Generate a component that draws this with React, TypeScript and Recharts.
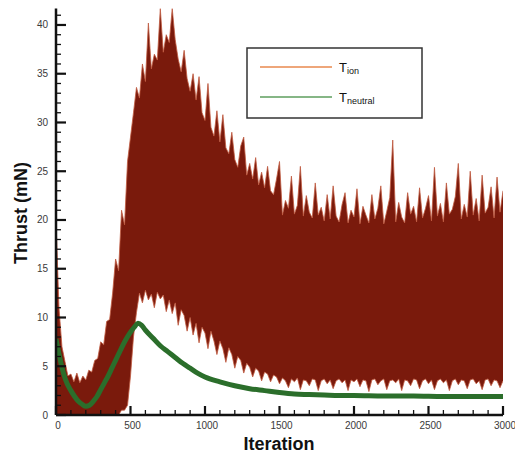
import React from 'react';
import { ComposedChart, Area, Line, XAxis, YAxis, Label } from 'recharts';

const tionIter = [
  0, 20, 40, 60, 80, 100, 120, 140, 160, 180, 200, 220, 240, 260, 280, 300, 320, 340, 360, 380,
  400, 420, 440, 460, 480, 500, 520, 540, 560, 580, 600, 620, 640, 660, 680, 700, 720, 740, 760, 780,
  800, 820, 840, 860, 880, 900, 920, 940, 960, 980, 1000, 1020, 1040, 1060, 1080, 1100, 1120, 1140, 1160, 1180,
  1200, 1220, 1240, 1260, 1280, 1300, 1320, 1340, 1360, 1380, 1400, 1420, 1440, 1460, 1480, 1500, 1520, 1540, 1560, 1580,
  1600, 1620, 1640, 1660, 1680, 1700, 1720, 1740, 1760, 1780, 1800, 1820, 1840, 1860, 1880, 1900, 1920, 1940, 1960, 1980,
  2000, 2020, 2040, 2060, 2080, 2100, 2120, 2140, 2160, 2180, 2200, 2220, 2240, 2260, 2280, 2300, 2320, 2340, 2360, 2380,
  2400, 2420, 2440, 2460, 2480, 2500, 2520, 2540, 2560, 2580, 2600, 2620, 2640, 2660, 2680, 2700, 2720, 2740, 2760, 2780,
  2800, 2820, 2840, 2860, 2880, 2900, 2920, 2940, 2960, 2980, 3000,
];

const tionHigh = [
  20, 11, 7, 5.5, 4, 4.2, 3.4, 4.3, 3.3, 4.0, 3.6, 4.6, 4.4, 5.6, 5.8, 7.5, 7.2, 9.6, 9.8, 12.5,
  16, 14.8, 21, 19.5, 26, 28.5, 31, 33.6, 32.5, 36, 34.2, 40.2, 35.5, 37, 36.4, 41.7, 37.2, 39, 38.2, 41.7,
  38.5, 36.5, 35.2, 37.4, 34.5, 33.2, 35, 32.3, 34.7, 31, 30.2, 34, 29.5, 28.6, 31.2, 28, 30.8, 27.4, 26.8, 29,
  26.2, 25.4, 27.6, 28.5, 24.6, 25.8, 24.2, 26.4, 23.6, 24.9, 23.3, 25.5, 23, 22.6, 24.2, 26, 20.5, 22, 21.2, 24.5,
  20.6, 21.5, 25.5, 20.4, 22.5, 20.8, 20.2, 23.8, 20.5, 21.3, 19.9, 22.6, 20.1, 23.5, 20.4, 19.8, 21.6, 22.8, 19.7, 21,
  20.3, 23.2, 19.6, 21.4, 20.5, 19.7, 22.6, 20.1, 21.2, 23.5, 19.6, 20.9, 22.3, 28.2, 19.8, 21.8, 20.3, 19.7, 22.8, 20.6,
  21.4, 19.8, 23.3, 20.2, 21.2, 22.5, 19.9, 25.4, 20.4, 21.7, 19.8, 23.8, 20.6, 21.1, 22.4, 25.8, 20.1, 21.6, 20.3, 25,
  20.5, 22.2, 19.9, 24.6, 20.7, 21.3, 23.4, 20.2, 24.4, 20.8, 23,
];

const tionLow = [
  0, 0, 0, 0, 0, 0, 0, 0, 0, 0, 0, 0, 0, 0, 0, 0, 0, 0, 0, 0,
  0, 0, 0.5, 0.5, 1, 4, 8, 10.5, 12.5, 11.5, 12.8, 11.8, 12.4, 11, 12.6, 11.9, 12.3, 10.6, 11.8, 10.4,
  11.5, 9.2, 10.8, 10.2, 8.6, 10, 8.2, 9.4, 7.4, 9, 8.4, 6.8, 8.6, 7.6, 6.2, 7.6, 6.8, 5.4, 6.9, 6.2,
  4.8, 6, 5.6, 4.3, 5.3, 4.9, 3.9, 4.8, 4.5, 3.5, 4.4, 4.2, 3.4, 4.1, 3.9, 3.2, 3.8, 3.5, 2.8, 3.7,
  3.4, 3.8, 2.6, 3.6, 3.5, 3.0, 3.7, 3.6, 2.5, 3.5, 3.7, 3.2, 3.6, 2.7, 3.5, 3.7, 3.3, 3.6, 2.5, 3.6,
  3.4, 3.7, 2.9, 3.6, 3.5, 2.4, 3.6, 3.7, 3.1, 3.5, 3.7, 2.6, 3.5, 3.6, 3.3, 3.7, 2.5, 3.6, 3.5, 3.0,
  3.7, 3.6, 2.7, 3.5, 3.7, 3.2, 3.6, 2.6, 3.5, 3.7, 3.3, 3.6, 2.5, 3.5, 3.7, 3.1, 3.6, 3.5, 2.7, 3.6,
  3.7, 3.2, 3.5, 2.6, 3.6, 3.7, 3.0, 3.6, 3.5, 2.8, 3.5,
];

const neutralIter = [
  0, 10, 25, 50, 75, 100, 125, 150, 175, 200, 225, 250, 275, 300, 325, 350, 375, 400, 425, 450,
  475, 500, 525, 550, 575, 600, 650, 700, 750, 800, 850, 900, 950, 1000, 1100, 1200, 1300, 1400, 1500, 1600,
  1700, 1800, 1900, 2000, 2200, 2400, 2600, 2800, 3000,
];
const neutralVal = [
  7.8, 7.0, 5.9, 4.3, 3.2, 2.5, 1.9, 1.4, 1.1, 0.9, 1.0, 1.4, 1.9, 2.6, 3.3, 4.0, 4.8, 5.6, 6.4, 7.2,
  7.9, 8.5, 9.0, 9.4, 9.2, 8.7, 7.9, 7.1, 6.5, 5.9, 5.3, 4.8, 4.3, 3.9, 3.4, 3.0, 2.7, 2.5, 2.3, 2.15,
  2.1, 2.05, 2.0, 2.0, 1.95, 1.95, 1.9, 1.9, 1.9,
];

const xTicks = [
  0, 100, 200, 300, 400, 500, 600, 700, 800, 900, 1000, 1100, 1200, 1300, 1400, 1500, 1600, 1700, 1800, 1900,
  2000, 2100, 2200, 2300, 2400, 2500, 2600, 2700, 2800, 2900, 3000,
];
const yTicks = [
  0, 1, 2, 3, 4, 5, 6, 7, 8, 9, 10, 11, 12, 13, 14, 15, 16, 17, 18, 19, 20,
  21, 22, 23, 24, 25, 26, 27, 28, 29, 30, 31, 32, 33, 34, 35, 36, 37, 38, 39, 40, 41,
];

const tionData = tionIter.map((it, k) => ({ iter: it, range: [tionLow[k], tionHigh[k]] }));
const neutralData = neutralIter.map((it, k) => ({ iter: it, neutral: neutralVal[k] }));

const FONT = '"Liberation Sans", Arial, sans-serif';
const AXIS = '#111';

const XTick = (props: any) => {
  const { x, y, payload } = props;
  const v = payload.value;
  const major = v % 500 === 0;
  return (
    <g>
      <line x1={x} x2={x} y1={y} y2={y - (major ? 9 : 5)} stroke={AXIS} strokeWidth={major ? 2.2 : 1.3} />
      {major && (
        <text x={x + 2} y={y + 13.5} textAnchor="middle" fontSize={10} fill="#3a3a3a" fontFamily={FONT}>
          {v}
        </text>
      )}
    </g>
  );
};

const YTick = (props: any) => {
  const { x, y, payload } = props;
  const v = payload.value;
  const major = v % 5 === 0;
  return (
    <g>
      <line x1={x} x2={x + (major ? 10 : 5)} y1={y} y2={y} stroke={AXIS} strokeWidth={major ? 2.2 : 1.3} />
      {major && (
        <text x={x - 8} y={y + 3.5} textAnchor="end" fontSize={10} fill="#3a3a3a" fontFamily={FONT}>
          {v}
        </text>
      )}
    </g>
  );
};

const Overlay = () => (
  <g fontFamily={FONT}>
    <text x={279} y={450} textAnchor="middle" fontSize={18} fontWeight="bold" fill="#111">
      Iteration
    </text>
    <text x={27} y={213} textAnchor="middle" fontSize={18} fontWeight="bold" fill="#111" transform="rotate(-90 27 213)">
      Thrust (mN)
    </text>
    <rect x={247} y={48} width={175} height={70} fill="#fff" stroke="#333" strokeWidth={1.5} />
    <line x1={260} x2={332} y1={67} y2={67} stroke="#e8894e" strokeWidth={1.5} />
    <line x1={260} x2={332} y1={97} y2={97} stroke="#5e9e5e" strokeWidth={1.5} />
    <text x={339} y={72} fontSize={13} fill="#111">
      T<tspan fontSize={9} dy={2}>ion</tspan>
    </text>
    <text x={339} y={102} fontSize={13} fill="#111">
      T<tspan fontSize={9} dy={2}>neutral</tspan>
    </text>
  </g>
);

export default function App() {
  return (
    <div style={{ position: 'absolute', left: 0, top: 0, width: 515, height: 454, background: '#fff' }}>
      <ComposedChart width={515} height={454} data={tionData} margin={{ top: 8.4, right: 12, bottom: 0, left: 0 }}>
        <XAxis
          dataKey="iter"
          type="number"
          domain={[0, 3000]}
          ticks={xTicks}
          interval={0}
          height={39}
          tickSize={0}
          tickMargin={0}
          tickLine={false}
          tick={<XTick />}
          axisLine={{ stroke: AXIS, strokeWidth: 2.5 }}
          allowDataOverflow
        >
          <Label content={() => <Overlay />} />
        </XAxis>
        <YAxis
          type="number"
          domain={[0, 41.7]}
          ticks={yTicks}
          interval={0}
          width={56}
          tickSize={0}
          tickMargin={0}
          tickLine={false}
          tick={<YTick />}
          axisLine={{ stroke: AXIS, strokeWidth: 2.5 }}
          allowDataOverflow
        />
        <Area
          type="linear"
          dataKey="range"
          fill="#7a1a0c"
          fillOpacity={1}
          stroke="#c05a40"
          strokeWidth={0.8}
          isAnimationActive={false}
          dot={false}
          activeDot={false}
        />
        <Line
          data={neutralData}
          type="monotone"
          dataKey="neutral"
          stroke="#2b6e2b"
          strokeWidth={5}
          dot={false}
          activeDot={false}
          isAnimationActive={false}
        />
      </ComposedChart>
    </div>
  );
}
